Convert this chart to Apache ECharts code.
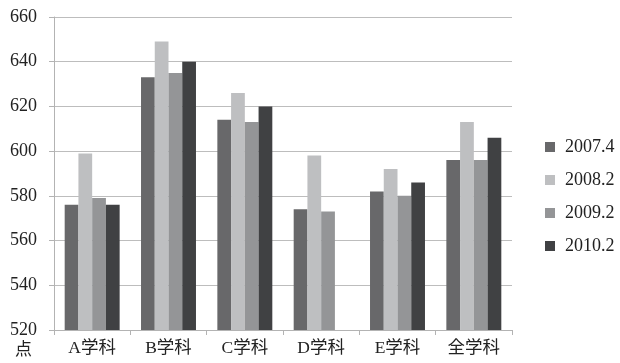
<!DOCTYPE html>
<html>
<head>
<meta charset="utf-8">
<script src="https://cdn.jsdelivr.net/npm/echarts@6/dist/echarts.min.js"></script>
<style>
  html, body { margin: 0; padding: 0; background: #fff; }
  #chart { width: 620px; height: 363px; }
</style>
</head>
<body>
<div id="chart"></div>
<script>
// Subjects and average scores per exam session
const categories = ['A学科', 'B学科', 'C学科', 'D学科', 'E学科', '全学科'];
const seriesNames = ['2007.4', '2008.2', '2009.2', '2010.2'];
const s2007_4 = [576, 633, 614, 574, 582, 596];
const s2008_2 = [599, 649, 626, 598, 592, 613];
const s2009_2 = [579, 635, 613, 573, 580, 596];
const s2010_2 = [576, 640, 620, null, 586, 606];
const yTicks = [520, 540, 560, 580, 600, 620, 640, 660];

const colors = ['#68686a', '#bebfc1', '#949597', '#404143'];
const seriesValues = [s2007_4, s2008_2, s2009_2, s2010_2];

const FONT = "'Liberation Serif', 'Noto Sans CJK JP', serif";

const chart = echarts.init(document.getElementById('chart'), null, { renderer: 'canvas' });

chart.setOption({
  animation: false,
  backgroundColor: '#ffffff',
  color: colors,
  grid: { left: 54, right: 108, top: 17, bottom: 33, containLabel: false },
  legend: {
    orient: 'vertical',
    left: 540,
    top: 133,
    itemWidth: 10,
    itemHeight: 10,
    itemGap: 15,
    icon: 'rect',
    data: seriesNames,
    textStyle: { fontFamily: FONT, fontSize: 18, color: '#222', padding: [0, 0, 0, 5] }
  },
  xAxis: {
    type: 'category',
    data: categories,
    axisLine: { show: true, lineStyle: { color: '#b3b3b3', width: 1 } },
    axisTick: { show: true, length: 5, alignWithLabel: false, lineStyle: { color: '#b3b3b3' } },
    axisLabel: { fontFamily: FONT, fontSize: 17.5, color: '#222', margin: 10 },
    splitLine: { show: false }
  },
  yAxis: {
    type: 'value',
    min: yTicks[0],
    max: yTicks[yTicks.length - 1],
    interval: 20,
    axisLine: { show: true, lineStyle: { color: '#b3b3b3', width: 1 } },
    axisTick: { show: true, length: 5, lineStyle: { color: '#b3b3b3' } },
    axisLabel: { fontFamily: FONT, fontSize: 18, color: '#222', margin: 17 },
    splitLine: { show: true, lineStyle: { color: '#bdbdbd', width: 1 } }
  },
  graphic: [{
    type: 'text',
    left: 15,
    top: 340,
    style: { text: '点', font: "17px 'Noto Sans CJK JP', sans-serif", fill: '#222' }
  }],
  series: seriesNames.map((name, i) => ({
    name: name,
    type: 'bar',
    data: seriesValues[i],
    barGap: '0%',
    barCategoryGap: '28%',
    itemStyle: { color: colors[i] }
  }))
});
</script>
</body>
</html>
